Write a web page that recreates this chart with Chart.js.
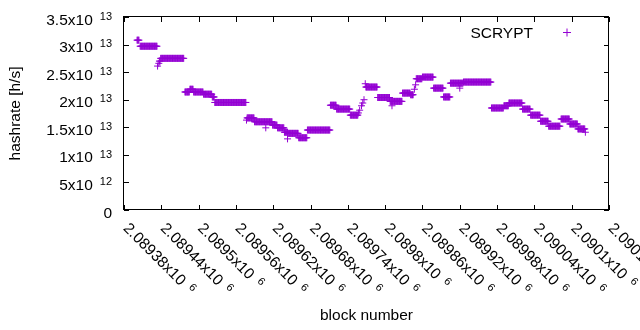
<!DOCTYPE html>
<html>
<head>
<meta charset="utf-8">
<script src="https://cdn.jsdelivr.net/npm/chart.js@4/dist/chart.umd.min.js"></script>
<style>
  html, body { margin: 0; padding: 0; background: #fff; }
</style>
</head>
<body>
<canvas id="chart" width="640" height="330"></canvas>
<script>
// hashrate estimate per block, read off the plot as runs of equal value
const seriesName = 'SCRYPT';
const runFirstBlock = [
  2089401, 2089406, 2089434, 2089436, 2089437, 2089439, 2089478, 2089486, 2089492, 2089508,
  2089522, 2089526, 2089577, 2089578, 2089590, 2089608, 2089619, 2089627, 2089638, 2089643,
  2089644, 2089661, 2089675, 2089712, 2089722, 2089744, 2089757, 2089759, 2089762, 2089764,
  2089766, 2089768, 2089769, 2089788, 2089808, 2089811, 2089828, 2089841, 2089847, 2089849,
  2089850, 2089860, 2089878, 2089894, 2089905, 2089920, 2089926, 2089971, 2089991, 2089999,
  2090021, 2090034, 2090050, 2090063, 2090083, 2090097, 2090110, 2090122
];
const runLastBlock = [
  2089404, 2089433, 2089434, 2089436, 2089438, 2089476, 2089485, 2089491, 2089507, 2089521,
  2089525, 2089576, 2089577, 2089589, 2089618, 2089608, 2089626, 2089637, 2089643, 2089643,
  2089660, 2089674, 2089711, 2089721, 2089743, 2089756, 2089757, 2089759, 2089762, 2089764,
  2089766, 2089768, 2089787, 2089807, 2089827, 2089811, 2089840, 2089845, 2089847, 2089849,
  2089859, 2089877, 2089893, 2089904, 2089925, 2089920, 2089970, 2089990, 2089998, 2090020,
  2090033, 2090049, 2090062, 2090081, 2090096, 2090109, 2090121, 2090122
];
const runHashrate = [
  3.08e13, 2.97e13, 2.61e13, 2.66e13, 2.70e13, 2.75e13, 2.14e13, 2.19e13, 2.14e13, 2.10e13,
  2.05e13, 1.95e13, 1.63e13, 1.67e13, 1.60e13, 1.49e13, 1.54e13, 1.49e13, 1.41e13, 1.29e13,
  1.39e13, 1.31e13, 1.45e13, 1.90e13, 1.83e13, 1.72e13, 1.76e13, 1.81e13, 1.89e13, 1.94e13,
  2.00e13, 2.29e13, 2.23e13, 2.04e13, 1.97e13, 1.89e13, 2.12e13, 2.09e13, 2.19e13, 2.27e13,
  2.38e13, 2.41e13, 2.21e13, 2.05e13, 2.30e13, 2.21e13, 2.32e13, 1.85e13, 1.89e13, 1.94e13,
  1.83e13, 1.72e13, 1.61e13, 1.52e13, 1.65e13, 1.56e13, 1.47e13, 1.41e13
];

const xTickValues = [
  2089380, 2089440, 2089500, 2089560, 2089620, 2089680, 2089740,
  2089800, 2089860, 2089920, 2089980, 2090040, 2090100, 2090160
];
const xTickLabels = [
  '2.08938x10^6', '2.08944x10^6', '2.0895x10^6', '2.08956x10^6', '2.08962x10^6',
  '2.08968x10^6', '2.08974x10^6', '2.0898x10^6', '2.08986x10^6', '2.08992x10^6',
  '2.08998x10^6', '2.09004x10^6', '2.0901x10^6', '2.09016x10^6'
];
const yTickValues = [0, 5e12, 1e13, 1.5e13, 2e13, 2.5e13, 3e13, 3.5e13];
const yTickLabels = [
  '0', '5x10^12', '1x10^13', '1.5x10^13', '2x10^13', '2.5x10^13', '3x10^13', '3.5x10^13'
];

const xTitle = 'block number';
const yTitle = 'hashrate [h/s]';

const purple = '#9400d3';
const FAMILY = '"Liberation Sans", Arial, sans-serif';
const MAIN_PX = 15.5;
const SUP_PX = 11;

const points = [];
runFirstBlock.forEach((first, i) => {
  for (let b = first; b <= runLastBlock[i]; b++) {
    points.push({ x: b, y: runHashrate[i] });
  }
});

// draws "mantissa" + raised exponent starting at (0,0) on the baseline,
// returns nothing; align 'right' puts the end of the label at x=0
function drawSupLabel(ctx, label, align) {
  const [main, sup] = label.split('^');
  ctx.font = MAIN_PX + 'px ' + FAMILY;
  const wMain = ctx.measureText(main).width;
  let wSup = 0;
  const gap = sup ? 7 : 0;
  if (sup) {
    ctx.font = SUP_PX + 'px ' + FAMILY;
    wSup = ctx.measureText(sup).width;
  }
  const start = align === 'right' ? -(wMain + gap + wSup) : 0;
  ctx.textAlign = 'left';
  ctx.textBaseline = 'alphabetic';
  ctx.font = MAIN_PX + 'px ' + FAMILY;
  ctx.fillText(main, start, 0);
  if (sup) {
    ctx.font = SUP_PX + 'px ' + FAMILY;
    ctx.fillText(sup, start + wMain + gap, -4.8);
  }
}

const gnuplotFrame = {
  id: 'gnuplotFrame',
  afterDatasetsDraw(chart) {
    const { ctx, chartArea: a, scales } = chart;
    const xs = scales.x, ys = scales.y;
    ctx.save();
    ctx.strokeStyle = '#000';
    ctx.lineWidth = 1;

    // ticks, inward on all four sides
    ctx.beginPath();
    xTickValues.forEach(v => {
      const px = Math.round(xs.getPixelForValue(v)) + 0.5;
      ctx.moveTo(px, a.bottom); ctx.lineTo(px, a.bottom - 5);
      ctx.moveTo(px, a.top); ctx.lineTo(px, a.top + 5);
    });
    yTickValues.forEach(v => {
      const py = Math.round(ys.getPixelForValue(v)) + 0.5;
      ctx.moveTo(a.left, py); ctx.lineTo(a.left + 5, py);
      ctx.moveTo(a.right, py); ctx.lineTo(a.right - 5, py);
    });
    ctx.stroke();
    ctx.strokeRect(a.left - 0.5, a.top - 0.5, a.right - a.left, a.bottom - a.top);

    ctx.fillStyle = '#000';

    // y tick labels
    yTickValues.forEach((v, i) => {
      const py = ys.getPixelForValue(v);
      ctx.save();
      ctx.translate(a.left - 12, py + 7.5);
      drawSupLabel(ctx, yTickLabels[i], 'right');
      ctx.restore();
    });

    // x tick labels, rotated by -45 in gnuplot terms
    xTickValues.forEach((v, i) => {
      const px = xs.getPixelForValue(v);
      ctx.save();
      ctx.translate(px - 1.5, a.bottom + 19);
      ctx.rotate(Math.PI / 4);
      drawSupLabel(ctx, xTickLabels[i], 'left');
      ctx.restore();
    });

    // axis titles
    ctx.font = MAIN_PX + 'px ' + FAMILY;
    ctx.textAlign = 'center';
    ctx.textBaseline = 'middle';
    ctx.fillText(xTitle, (a.left + a.right) / 2, 316);
    ctx.save();
    ctx.translate(16, (a.top + a.bottom) / 2);
    ctx.rotate(-Math.PI / 2);
    ctx.fillText(yTitle, 0, 0);
    ctx.restore();

    // key, top right inside the plot
    ctx.textAlign = 'right';
    ctx.textBaseline = 'alphabetic';
    ctx.fillText(chart.data.datasets[0].label, a.right - 76, 37.5);
    ctx.strokeStyle = purple;
    ctx.beginPath();
    ctx.moveTo(a.right - 46, 32.5); ctx.lineTo(a.right - 38, 32.5);
    ctx.moveTo(a.right - 42, 28.5); ctx.lineTo(a.right - 42, 36.5);
    ctx.stroke();

    ctx.restore();
  }
};

new Chart(document.getElementById('chart'), {
  type: 'scatter',
  data: {
    datasets: [{
      label: seriesName,
      data: points,
      pointStyle: 'cross',
      pointRadius: 3.5,
      pointBorderWidth: 1,
      borderColor: purple,
      backgroundColor: purple,
    }],
  },
  options: {
    responsive: false,
    animation: false,
    events: [],
    layout: { padding: { left: 124, top: 17, right: 31, bottom: 120 } },
    plugins: { legend: { display: false }, tooltip: { enabled: false } },
    scales: {
      x: { type: 'linear', display: false, min: 2089380, max: 2090160 },
      y: { type: 'linear', display: false, min: 0, max: 3.5e13 },
    },
  },
  plugins: [gnuplotFrame],
});
</script>
</body>
</html>
